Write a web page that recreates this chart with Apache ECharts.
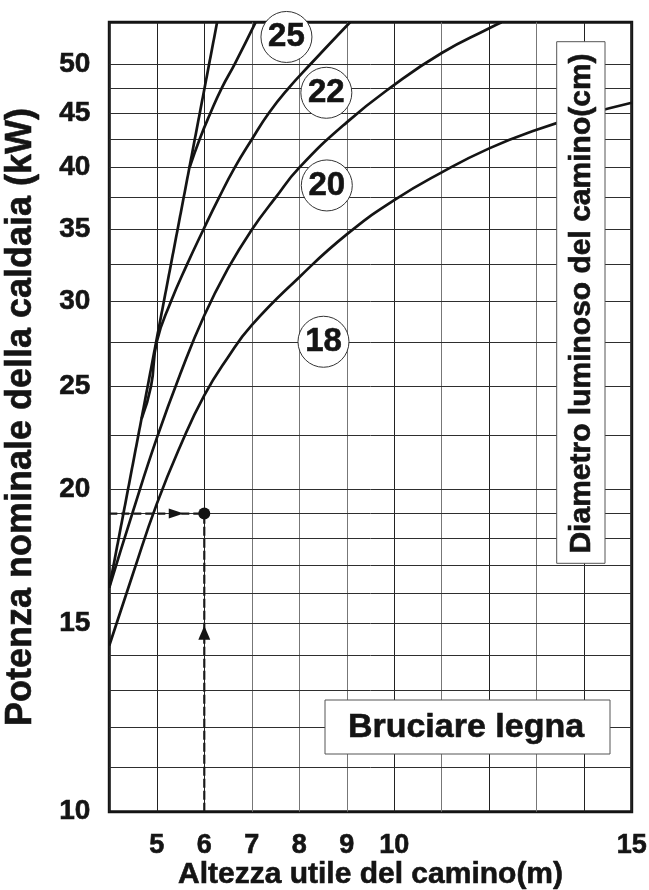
<!DOCTYPE html>
<html>
<head>
<meta charset="utf-8">
<script src="https://cdn.jsdelivr.net/npm/echarts@6/dist/echarts.min.js"></script>
<style>
  html, body { margin: 0; padding: 0; background: #fff; }
  #chart { width: 649px; height: 890px; }
</style>
</head>
<body>
<div id="chart"></div>
<script>
// Axis ticks and grid
const xTickLabels = [5, 6, 7, 8, 9, 10, 15];
const yTickLabels = [10, 15, 20, 25, 30, 35, 40, 45, 50];
const yMinorGrid = [11, 12, 13, 14, 16, 17, 18, 19, 22.5, 27.5, 32.5, 37.5, 42.5, 47.5];

// Curves: [height (m), power (kW)]
const limitLine = [[4, 16.2], [6.27, 54.7]];
const dia25 = [[5.69, 40], [5.9, 42.5], [6.13, 45], [6.37, 47.5], [6.64, 50], [7.08, 54.7]];
const dia22 = [[4.68, 23.3], [4.88, 25], [5.0, 27.5], [5.3, 30], [5.64, 32.5], [5.98, 35], [6.31, 37.5],
               [6.64, 40], [7.0, 42.5], [7.36, 45], [7.78, 47.5], [8.24, 50], [9.07, 54.7]];
const dia20 = [[4, 16.2], [4.5, 19.1], [5, 22.35], [5.5, 25.7], [6, 29.1], [6.5, 32.2], [7, 35.0],
               [7.5, 37.5], [8, 40.0], [9, 44.1], [10, 47.8], [11, 51.2], [12, 54.0], [12.26, 54.7]];
const dia18 = [[4, 14.3], [4.5, 16.7], [5, 19.4], [5.5, 22.0], [6, 24.5], [6.5, 26.6], [7, 28.5], [8, 31.6],
               [9, 34.65], [10, 37.3], [11, 39.6], [12, 41.7], [13, 43.4], [14, 44.8], [15, 46.0]];

// Curve tags (diameter in cm) and where they sit
const diameterTags = ['25', '22', '20', '18'];
const tagX = [7.73, 8.57, 8.58, 8.51];
const tagY = [53.0, 47.0, 38.5, 27.5];

// Worked example: 6 m chimney -> 19 kW
const exampleHeight = 6;
const examplePower = 19;

const FONT = '"Liberation Sans", Arial, Helvetica, sans-serif';
const INK = '#141414';

const chart = echarts.init(document.getElementById('chart'), null, { renderer: 'canvas' });

const curveStyle = { color: INK, width: 2.7 };
function curve(name, data, smooth) {
  return {
    name, type: 'line', data, smooth, symbol: 'none', z: 5,
    lineStyle: curveStyle, silent: true
  };
}

const heavyText = { textBorderColor: INK, textBorderWidth: 0.6 };

const option = {
  animation: false,
  backgroundColor: '#fff',
  grid: {
    left: 109.3, right: 17.3, top: 22.3, bottom: 78.3,
    outerBoundsMode: 'none', containLabel: false,
    show: true, borderColor: INK, borderWidth: 3, backgroundColor: 'transparent'
  },
  xAxis: {
    type: 'value', min: 4, max: 15, interval: 1,
    axisLine: { show: false }, axisTick: { show: false },
    axisLabel: Object.assign({
      margin: 20, color: INK, fontFamily: FONT, fontWeight: 'bold', fontSize: 27,
      formatter: v => (xTickLabels.includes(v) ? String(v) : '')
    }, heavyText),
    splitLine: {
      show: true,
      lineStyle: { width: 1, color: ['#222', '#222', '#222', '#777', '#777', '#777', '#222', '#777', '#222', '#777', '#222', '#222'] }
    },
    name: 'Altezza utile del camino(m)', nameLocation: 'middle', nameGap: 48, nameMoveOverlap: false,
    nameTextStyle: Object.assign({ color: INK, fontFamily: FONT, fontWeight: 'bold', fontSize: 30 }, heavyText)
  },
  yAxis: {
    type: 'log', logBase: 10, min: 10, max: 54.7,
    axisLine: { show: false }, axisTick: { show: false },
    splitLine: { show: false }, minorSplitLine: { show: false },
    axisLabel: Object.assign({
      customValues: yTickLabels,
      margin: 19, color: INK, fontFamily: FONT, fontWeight: 'bold', fontSize: 28,
      formatter: v => String(Math.round(v))
    }, heavyText),
    name: 'Potenza nominale della caldaia (kW)', nameLocation: 'middle', nameGap: 70,
    nameTextStyle: Object.assign({ color: INK, fontFamily: FONT, fontWeight: 'bold', fontSize: 36 }, heavyText)
  },
  series: [
    {
      name: 'grid-h', type: 'line', data: [], z: 1, silent: true,
      markLine: {
        silent: true, symbol: ['none', 'none'], animation: false,
        label: { show: false },
        lineStyle: { type: 'solid', width: 1, color: '#2e2e2e' },
        data: yMinorGrid.concat(yTickLabels.slice(1)).map(v => ({ yAxis: v }))
      }
    },
    curve('limite', limitLine, false),
    curve('25', dia25, 0.5),
    curve('22', dia22, 0.5),
    curve('20', dia20, 0.5),
    curve('18', dia18, 0.5),
    {
      name: 'esempio-h', type: 'line', symbol: 'none', z: 6, silent: true,
      data: [[4, examplePower], [exampleHeight, examplePower]],
      lineStyle: { color: '#1a1a1a', width: 2.2, type: [8, 4] }
    },
    {
      name: 'esempio-v', type: 'line', symbol: 'none', z: 6, silent: true,
      data: [[exampleHeight, 10], [exampleHeight, examplePower]],
      lineStyle: { color: '#1a1a1a', width: 2.2, type: [9, 3] }
    },
    {
      name: 'freccia-h', type: 'scatter', z: 7, silent: true,
      symbol: 'path://M0,0 L12,5 L0,10 Z', symbolSize: [15, 10],
      itemStyle: { color: INK, opacity: 1 },
      data: [[5.41, examplePower]]
    },
    {
      name: 'freccia-v', type: 'scatter', z: 7, silent: true,
      symbol: 'triangle', symbolSize: [12, 14],
      itemStyle: { color: INK, opacity: 1 },
      data: [[exampleHeight, 14.7]]
    },
    {
      name: 'punto', type: 'scatter', z: 7, silent: true,
      symbol: 'circle', symbolSize: 12,
      itemStyle: { color: INK, opacity: 1 },
      data: [[exampleHeight, examplePower]]
    },
    {
      name: 'diametri', type: 'scatter', z: 8, silent: true,
      symbol: 'circle', symbolSize: 51,
      itemStyle: { color: '#fff', borderColor: '#333', borderWidth: 1, opacity: 1 },
      label: Object.assign({
        show: true, position: 'inside', color: INK,
        fontFamily: FONT, fontWeight: 'bold', fontSize: 33,
        formatter: p => p.name
      }, heavyText),
      data: diameterTags.map((t, i) => ({ name: t, value: [tagX[i], tagY[i]] }))
    }
  ],
  graphic: [
    {
      type: 'rect', z: 20, shape: { x: 556.7, y: 41.7, width: 48.3, height: 521.6 },
      style: { fill: '#fff', stroke: '#555', lineWidth: 1 }
    },
    {
      type: 'text', z: 21, x: 581.5, y: 303.5, rotation: Math.PI / 2,
      style: {
        text: 'Diametro luminoso del camino(cm)', fill: INK, stroke: INK, lineWidth: 0.6,
        font: 'bold 30px ' + FONT, align: 'center', verticalAlign: 'middle'
      }
    },
    {
      type: 'rect', z: 20, shape: { x: 325, y: 700, width: 285, height: 54 },
      style: { fill: '#fff', stroke: '#555', lineWidth: 1 }
    },
    {
      type: 'text', z: 21, x: 466, y: 727.5,
      style: {
        text: 'Bruciare legna', fill: INK, stroke: INK, lineWidth: 0.6,
        font: 'bold 34px ' + FONT, align: 'center', verticalAlign: 'middle'
      }
    }
  ]
};

chart.setOption(option);
</script>
</body>
</html>
